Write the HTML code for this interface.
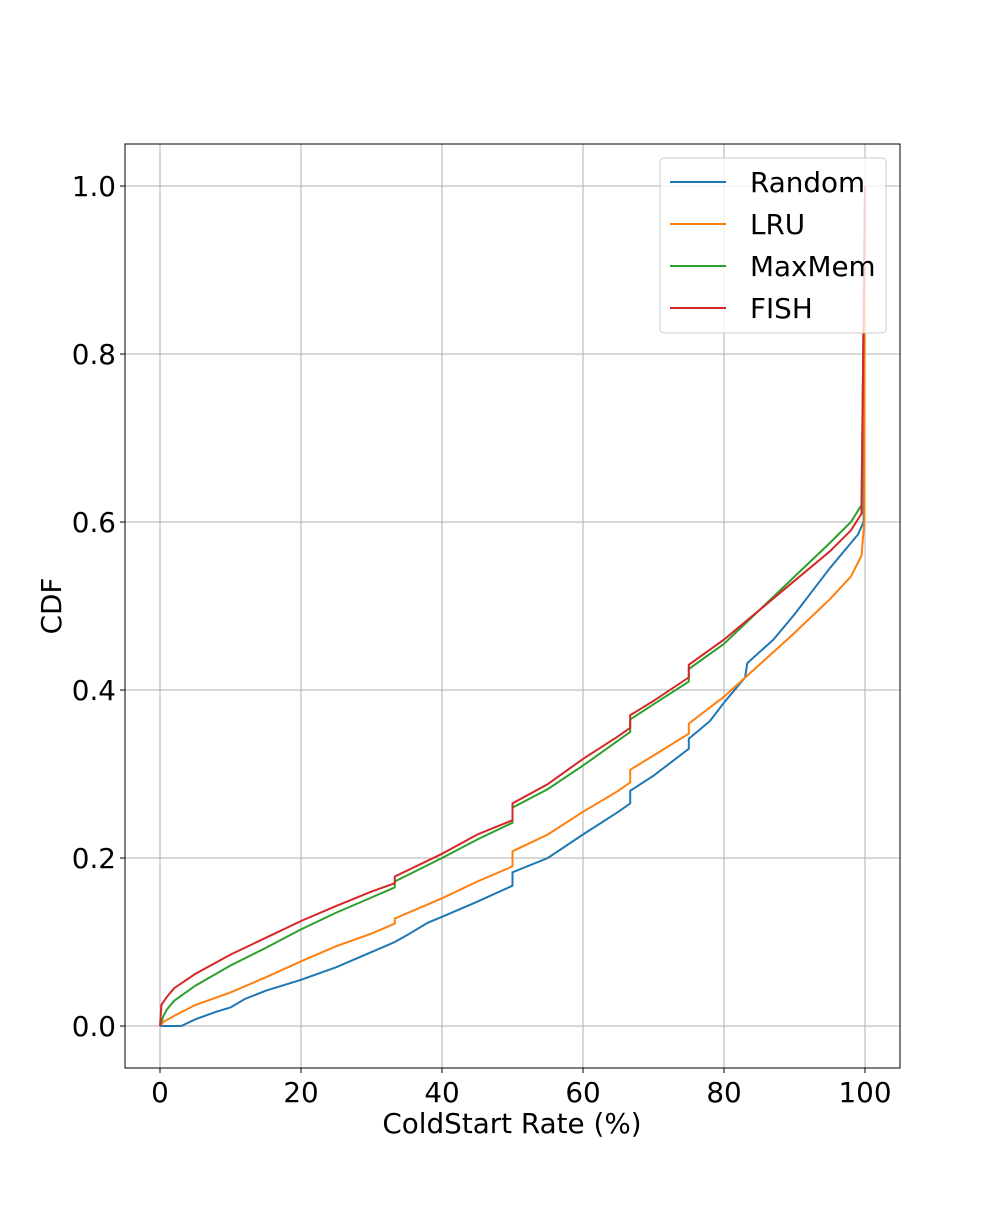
<!DOCTYPE html>
<html><head><meta charset="utf-8"><style>
body{margin:0;background:#fff;}
svg text{font-family:"DejaVu Sans","Liberation Sans",sans-serif;fill:#000;}
</style></head><body>
<svg id="chart" width="1000" height="1200" xmlns="http://www.w3.org/2000/svg">
<rect width="1000" height="1200" fill="#fff"/>
<g id="grid"></g><g id="series"></g><g id="axes"></g>
<text x="512" y="1133" font-size="27.8" text-anchor="middle">ColdStart Rate (%)</text>
<text x="61" y="606" font-size="27.8" text-anchor="middle" transform="rotate(-90 61 606)">CDF</text>
<g id="legend"></g>
</svg>
<script>
const xTicks=[0,20,40,60,80,100];
const yTicks=[0,0.2,0.4,0.6,0.8,1.0];
const yTickLabels=["0.0","0.2","0.4","0.6","0.8","1.0"];
const seriesNames=["Random","LRU","MaxMem","FISH"];
const seriesColors=["#1f77b4","#ff7f0e","#2ca02c","#d62728"];
const randomX=[0,3,5,8,10,12,15,20,25,30,33.3,35,38,40,45,50,50,55,60,65,66.7,66.7,70,75,75,78,80,83,83.3,87,90,95,99,99.8,100];
const randomY=[0,0,0.008,0.017,0.022,0.032,0.042,0.055,0.07,0.088,0.1,0.108,0.123,0.13,0.148,0.167,0.183,0.2,0.228,0.255,0.265,0.28,0.298,0.33,0.342,0.363,0.385,0.415,0.432,0.46,0.49,0.545,0.585,0.6,1.0];
const lruX=[0,0.5,2,5,10,15,20,25,30,33.3,33.3,40,45,50,50,55,60,65,66.7,66.7,70,75,75,80,85,90,95,98,99.5,99.9,100];
const lruY=[0,0.005,0.012,0.025,0.04,0.058,0.077,0.095,0.11,0.122,0.128,0.152,0.172,0.19,0.208,0.228,0.255,0.28,0.29,0.305,0.322,0.348,0.36,0.392,0.43,0.468,0.508,0.535,0.56,0.6,1];
const maxmemX=[0,0.5,1,2,5,10,15,20,25,30,33.3,33.3,40,45,50,50,55,60,65,66.7,66.7,70,75,75,80,85,90,95,98,99.5,100];
const maxmemY=[0,0.012,0.02,0.03,0.048,0.072,0.093,0.115,0.135,0.153,0.165,0.172,0.2,0.222,0.242,0.26,0.282,0.31,0.34,0.35,0.365,0.383,0.41,0.425,0.455,0.495,0.535,0.575,0.6,0.62,1];
const fishX=[0,0.2,1,2,5,10,15,20,25,30,33.3,33.3,40,45,50,50,55,60,65,66.7,66.7,70,75,75,80,85,90,95,98,99.5,100];
const fishY=[0,0.025,0.035,0.045,0.062,0.085,0.105,0.125,0.143,0.16,0.17,0.178,0.205,0.228,0.245,0.265,0.288,0.318,0.345,0.355,0.37,0.387,0.415,0.43,0.46,0.495,0.53,0.565,0.59,0.61,1];

const NS="http://www.w3.org/2000/svg";
const L=125,R=900,T=144,B=1068;
const xs=v=>160+v*7.05;
const ys=v=>1026-v*840;
function mk(tag,attrs,parent){const e=document.createElementNS(NS,tag);for(const k in attrs)e.setAttribute(k,attrs[k]);parent.appendChild(e);return e;}
const grid=document.getElementById('grid'),axes=document.getElementById('axes'),ser=document.getElementById('series'),leg=document.getElementById('legend');
xTicks.forEach(t=>{
 const g=mk('line',{x1:xs(t),x2:xs(t),y1:T,y2:B,stroke:'#b0b0b0','stroke-width':1},grid);
 
 
 mk('line',{x1:xs(t),x2:xs(t),y1:B,y2:B+5,stroke:'#000','stroke-width':1},axes);
 const tx=mk('text',{x:xs(t),y:B+34,'font-size':27.8,'text-anchor':'middle'},axes);tx.textContent=t;
 
 
});
yTicks.forEach((t,i)=>{
 const g=mk('line',{x1:L,x2:R,y1:ys(t),y2:ys(t),stroke:'#b0b0b0','stroke-width':1},grid);
 
 
 mk('line',{x1:L-5,x2:L,y1:ys(t),y2:ys(t),stroke:'#000','stroke-width':1},axes);
 const tx=mk('text',{x:L-9,y:ys(t)+10,'font-size':27.8,'text-anchor':'end'},axes);tx.textContent=yTickLabels[i];
 
 
});
const frame=mk('rect',{x:L,y:T,width:R-L,height:B-T,fill:'none',stroke:'#000','stroke-width':1},axes);


const data=[[randomX,randomY],[lruX,lruY],[maxmemX,maxmemY],[fishX,fishY]];
data.forEach((d,i)=>{
 const pts=d[0].map((x,j)=>xs(x).toFixed(1)+','+ys(d[1][j]).toFixed(1)).join(' ');
 const p=mk('polyline',{points:pts,fill:'none',stroke:seriesColors[i],'stroke-width':2},ser);
 
 
});
const box=mk('rect',{x:660,y:158,width:226,height:175,rx:4,fill:'#fff','fill-opacity':0.8,stroke:'#ccc'},leg);


seriesNames.forEach((n,i)=>{
 const y=182+i*42;
 const ln=mk('line',{x1:670,x2:726,y1:y,y2:y,stroke:seriesColors[i],'stroke-width':2},leg);
 
 
 const tx=mk('text',{x:750,y:y+10,'font-size':27.8},leg);tx.textContent=n;
 
 
});
</script>
</body></html>
